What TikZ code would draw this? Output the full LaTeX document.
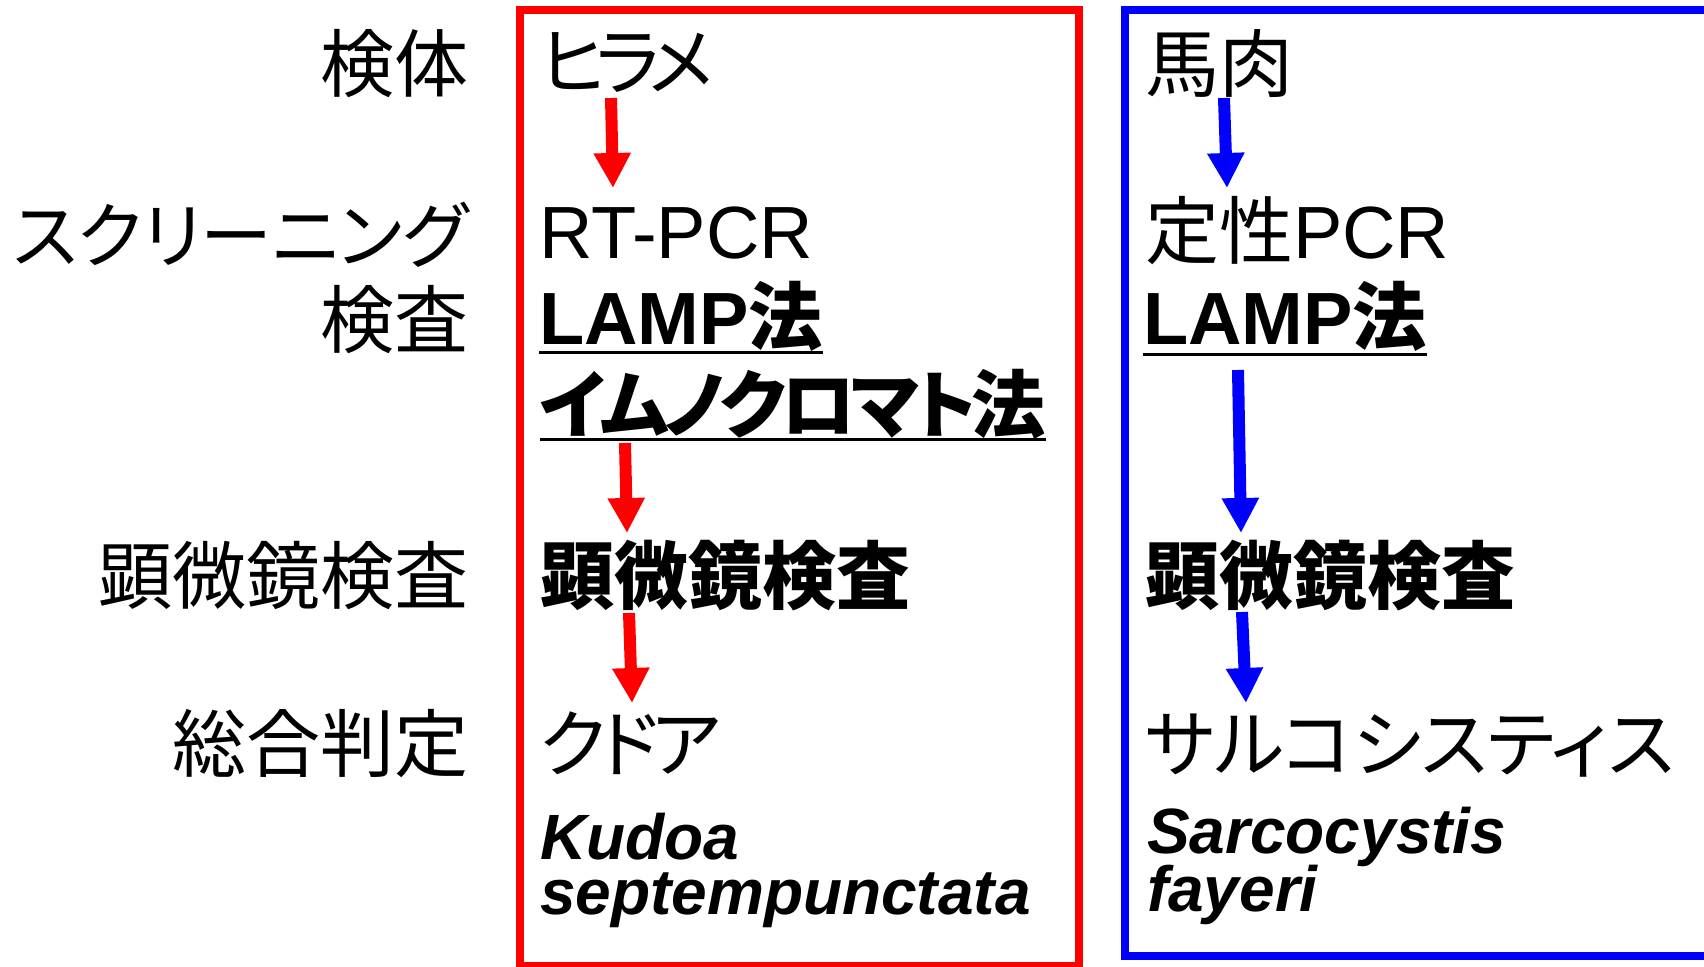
\documentclass[tikz,border=0pt]{standalone}
\usepackage{fontspec}
\setmainfont{Liberation Sans}
\newfontfamily\jp[RawFeature=+palt]{Noto Sans CJK JP}
\usetikzlibrary{arrows.meta}
\begin{document}
\begin{tikzpicture}[x=0.5pt,y=-0.5pt,
  base/.style={inner sep=0pt, outer sep=0pt},
  lbl/.style={base, anchor=base east, font=\jp\fontsize{37pt}{40pt}\selectfont},
  txt/.style={base, anchor=base west, font=\fontsize{37pt}{40pt}\selectfont},
  jptxt/.style={base, anchor=base west, font=\jp\fontsize{37pt}{40pt}\selectfont},
  jpbold/.style={base, anchor=base west, font=\jp\bfseries\fontsize{37pt}{40pt}\selectfont},
  latbold/.style={base, anchor=base west, font=\bfseries\fontsize{37pt}{40pt}\selectfont},
  species/.style={base, anchor=base west, font=\bfseries\itshape\fontsize{32pt}{34pt}\selectfont},
  redbox/.style={draw=red, line width=4pt},
  bluebox/.style={draw=blue, line width=4pt},
  redarr/.style={draw=red, line width=6pt, -{Triangle[width=17.5pt,length=17.5pt]}},
  bluearr/.style={draw=blue, line width=6pt, -{Triangle[width=17.5pt,length=17.5pt]}},
  uline/.style={draw=black, line width=1.5pt}
]
\useasboundingbox (0,0) rectangle (1704,967);
\clip (0,0) rectangle (1704,967);
\fill[white] (0,0) rectangle (1704,967);

% boxes
\draw[redbox] (520,10) rectangle (1079,966);
\draw[bluebox] (1125,10) rectangle (1760,956);

% left labels
\node[lbl] (l1) at (468,92) {検体};
\node[lbl, font=\jp\fontsize{36pt}{38pt}\selectfont] (l2) at (468,263) {スクリーニング};
\node[lbl] (l3) at (468,348) {検査};
\node[lbl] (l4) at (468,604) {顕微鏡検査};
\node[lbl] (l5) at (468,772) {総合判定};

% red column
\node[jptxt] (r1) at (540,90) {ヒ\kern-5.5ptラ\kern-5.5ptメ};
\node[txt] (r2) at (539,259) {RT-PCR};
\node[latbold] (r3) at (539,345) {LAMP{\jp 法}};
\node[jpbold] (r4) at (540,433) {イ\kern-2.5ptム\kern-2.5ptノ\kern-2.5ptク\kern-2.5ptロ\kern-2.5ptマ\kern-2.5ptト\kern-2.5pt法};
\node[jpbold] (r5) at (540,604) {顕微鏡検査};
\node[jptxt] (r6) at (540,772) {ク\kern-3.2ptド\kern-3.2ptア};
\node[species] (r7) at (540,860) {Kudoa};
\node[species] (r8) at (540,914) {septempunctata};
\draw[uline] ([yshift=-4pt]r3.base west) -- ([yshift=-4pt]r3.base east);
\draw[uline] ([yshift=-3.5pt]r4.base west) -- ([yshift=-3.5pt]r4.base east);

% blue column
\node[jptxt] (b1) at (1145,92) {馬肉};
\node[txt] (b2) at (1145,259) {{\jp 定性}PCR};
\node[latbold] (b3) at (1143,345) {LAMP{\jp 法}};
\node[jpbold] (b5) at (1145,604) {顕微鏡検査};
\node[jptxt] (b6) at (1145,772) {サルコシスティス};
\node[species] (b7) at (1147,854) {Sarcocystis};
\node[species] (b8) at (1147,912) {fayeri};
\draw[uline] ([yshift=-5pt]b3.base west) -- ([yshift=-5pt]b3.base east);

% arrow end points
\coordinate (ra1) at (611,98);  \coordinate (ra1e) at (613,188);
\coordinate (ra2) at (625,443); \coordinate (ra2e) at (627,533);
\coordinate (ra3) at (629,613); \coordinate (ra3e) at (632,703);
\coordinate (ba1) at (1224,98);  \coordinate (ba1e) at (1227,188);
\coordinate (ba2) at (1238,370); \coordinate (ba2e) at (1241,533);
\coordinate (ba3) at (1242,612); \coordinate (ba3e) at (1246,703);

\draw[redarr] (ra1) -- (ra1e);
\draw[redarr] (ra2) -- (ra2e);
\draw[redarr] (ra3) -- (ra3e);
\draw[bluearr] (ba1) -- (ba1e);
\draw[bluearr] (ba2) -- (ba2e);
\draw[bluearr] (ba3) -- (ba3e);
\end{tikzpicture}
\end{document}
